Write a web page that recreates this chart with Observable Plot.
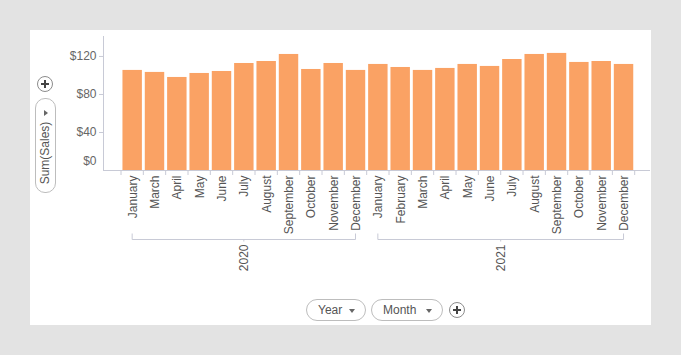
<!DOCTYPE html>
<html><head><meta charset="utf-8">
<script src="https://cdn.jsdelivr.net/npm/d3@7"></script>
<script src="https://cdn.jsdelivr.net/npm/@observablehq/plot@0.6"></script>
<style>
body{margin:0;background:#e3e3e3;width:681px;height:355px;overflow:hidden;position:relative;font-family:"Liberation Sans",Arial,sans-serif;color:#555;}
#panel{position:absolute;left:30px;top:30px;width:621px;height:295px;background:#fff;}
#chart{position:absolute;left:0;top:0;}
.circ{position:absolute;width:16px;height:16px;border:1px solid #8c8c8c;border-radius:50%;box-sizing:border-box;}
.circ::before,.circ::after{content:"";position:absolute;background:#444;}
.circ::before{left:3px;right:3px;top:6px;height:2px;}
.circ::after{top:3px;bottom:3px;left:6px;width:2px;}
.pill{position:absolute;border:1px solid #bdbdbd;border-radius:11px;box-sizing:border-box;font-size:12px;color:#555;}
.hp{height:22px;line-height:20px;padding-left:11px;}
.hp .tri{position:absolute;right:10px;top:9px;width:0;height:0;border-left:3.5px solid transparent;border-right:3.5px solid transparent;border-top:4px solid #666;}
</style></head>
<body>
<div id="panel"></div>
<div id="chart"></div>
<div class="circ" style="left:37px;top:76px"></div>
<div class="pill" style="left:35px;top:98px;width:21px;height:95px;border-radius:10px;">
  <div style="position:absolute;left:8px;top:11px;width:0;height:0;border-top:3.5px solid transparent;border-bottom:3.5px solid transparent;border-left:4px solid #666;"></div>
</div>
<div id="vlabel" style="position:absolute;left:45px;top:153px;width:0;height:0;"><span style="position:absolute;left:0;top:0;white-space:nowrap;font-size:12px;color:#555;transform:translate(-50%,-50%) rotate(-90deg);">Sum(Sales)</span></div>
<div class="pill hp" style="left:306px;top:299px;width:60px;">Year<span class="tri"></span></div>
<div class="pill hp" style="left:371px;top:299px;width:72px;">Month<span class="tri"></span></div>
<div class="circ" style="left:449px;top:302px"></div>
<script>
const months2020 = ["January","March","April","May","June","July","August","September","October","November","December"];
const sales2020 = [105.3,103.2,97.9,102.1,104.2,112.6,114.7,122.1,106.3,112.6,105.3];
const months2021 = ["January","February","March","April","May","June","July","August","September","October","November","December"];
const sales2021 = [111.6,108.4,105.3,107.4,111.6,109.5,116.8,122.1,123.2,113.7,114.7,111.6];
const years = ["2020","2021"];
const yTicks = [0,40,80,120];
const yMax = 141;

const groups = [[years[0], months2020, sales2020],[years[1], months2021, sales2021]];
const rows = [];
groups.forEach(([yr, ms, ss]) => ms.forEach((m,i) => rows.push({year: yr, month: m, key: yr+"|"+m, sales: ss[i]})));
const keys = rows.map(d => d.key);

const left = 121, right = 634.7;
const step = (right-left)/keys.length;
const axisColor = "#c8cad6";
const font = "'Liberation Sans', Arial, sans-serif";

const yearMarks = groups.map(([yr, ms]) => {
  const first = keys.indexOf(yr+"|"+ms[0]);
  const last = keys.indexOf(yr+"|"+ms[ms.length-1]);
  const mid = (first+last)/2;
  const k = keys[Math.floor(mid)];
  return Plot.text([yr], {x: () => k, y: () => 0, text: d => d, dx: (mid%1) ? step/2 : 0, dy: 74, rotate: -90, textAnchor: "end", lineAnchor: "middle", fill: "#555", fontSize: 12});
});

const plot = Plot.plot({
  width: 681, height: 355,
  marginLeft: 103, marginRight: 31, marginTop: 36, marginBottom: 185,
  style: {background: "transparent", fontFamily: font, fontSize: "12px", overflow: "visible"},
  x: {type: "band", domain: keys, range: [left, right], round: false, paddingInner: 0.13, paddingOuter: 0.065, axis: null},
  y: {domain: [0, yMax], axis: null},
  marks: [
    Plot.barY(rows, {x: "key", y: "sales", fill: "#FAA264"}),
    Plot.ruleY([0], {stroke: axisColor}),
    Plot.axisY(yTicks.filter(d => d > 0), {label: null, tickSize: 4, tickPadding: 3, tickFormat: d => "$" + d, stroke: axisColor, fill: "#666", fontSize: 12}),
    Plot.text([yTicks[0]], {y: d => d, frameAnchor: "left", dx: -7, dy: -9, textAnchor: "end", text: d => "$" + d, fill: "#666", fontSize: 12}),
    Plot.text(rows, {x: "key", y: () => 0, text: "month", rotate: -90, textAnchor: "end", lineAnchor: "middle", dy: 5, fill: "#555", fontSize: 12}),
    ...yearMarks
  ]
});

const xs = plot.scale("x"), ys = plot.scale("y");
const svg = d3.select(plot);
const g = svg.append("g").attr("stroke", axisColor).attr("fill", "none");
const y0 = ys.apply(0), yTop = ys.apply(yMax);
g.append("line").attr("x1", 103.5).attr("x2", 103.5).attr("y1", yTop).attr("y2", y0);
const center = k => xs.apply(k) + xs.bandwidth/2;
keys.forEach(k => {
  const b = center(k) - xs.step/2;
  g.append("line").attr("x1", b).attr("x2", b).attr("y1", y0).attr("y2", y0+5);
});
const lastB = center(keys[keys.length-1]) + xs.step/2;
g.append("line").attr("x1", lastB).attr("x2", lastB).attr("y1", y0).attr("y2", y0+5);
const by = y0 + 69.5;
groups.forEach(([yr, ms]) => {
  const a = center(yr+"|"+ms[0]), b = center(yr+"|"+ms[ms.length-1]);
  g.append("path").attr("d", `M${a},${by-6}V${by}H${b}V${by-6}`);
  const m = (a+b)/2;
  g.append("line").attr("x1", m).attr("x2", m).attr("y1", by).attr("y2", by+2);
});
document.getElementById("chart").appendChild(plot);
</script>
</body></html>
